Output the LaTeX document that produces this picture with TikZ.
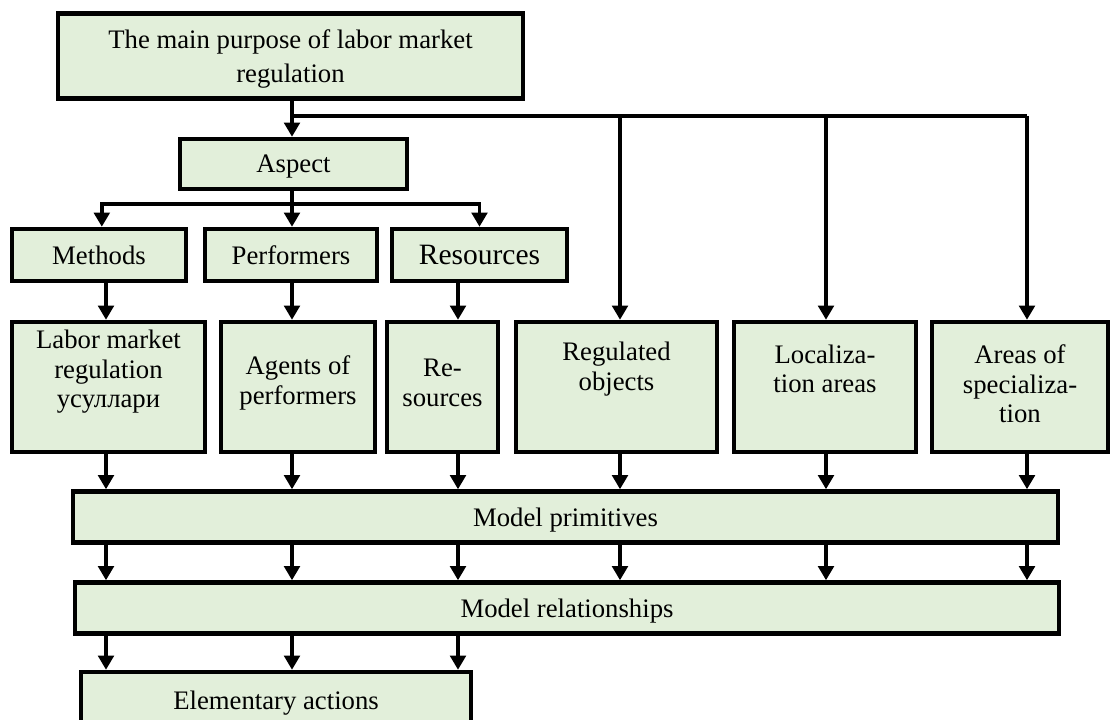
\documentclass[tikz,border=0pt]{standalone}
\usepackage{fontspec}
\setmainfont{Liberation Serif}
\usetikzlibrary{arrows.meta}
\definecolor{boxgreen}{HTML}{E2EFDA}

\begin{document}
\begin{tikzpicture}[x=0.025cm,y=-0.025cm,
        box/.style={draw,line width=3.2pt,fill=boxgreen,inner sep=0pt,align=center,
                text depth=0pt,font=\fontsize{19}{24}\selectfont},
        sz/.style 2 args={minimum width=#1*0.025cm,minimum height=#2*0.025cm},
        txt/.style={align=center,inner sep=0pt,font=\fontsize{19}{21}\selectfont},
        ln/.style={line width=2.8pt},
        arr/.style={line width=2.8pt,-{Triangle[width=11pt,length=10pt]}}]
        \useasboundingbox (0,0) rectangle (1112,720);
        % columns of the arrows
        \foreach \i/\x in {1/106,2/292,3/458,4/620,5/826,6/1027}
            \coordinate (c\i) at (\x,0);
        \node[box,sz={465}{85}] (goal) at (290.5,56) {The main purpose of labor market\\regulation};
        \node[box,sz={227}{50}] (aspect) at (293.5,164) {Aspect};
        \node[box,sz={174}{52}] (methods) at (99,255) {Methods};
        \node[box,sz={172}{52}] (perf) at (291,255) {Performers};
        \node[box,sz={175}{52},font=\fontsize{21}{24}\selectfont] (res) at (479.5,255) {Resources};
        \node[box,sz={193}{130}] (lab) at (108.5,387) {};
        \node[box,sz={154}{130}] (agent) at (298,387) {};
        \node[box,sz={111}{130}] (resrc) at (442.5,387) {};
        \node[box,sz={201}{130}] (regobj) at (616.5,387) {};
        \node[box,sz={182}{130}] (loc) at (825,387) {};
        \node[box,sz={176}{130}] (spec) at (1020,387) {};
        \node[txt] (labt) at (108.5,372) {Labor market\\regulation\\усуллари};
        \node[txt] (agentt) at (298,383) {Agents of\\performers};
        \node[txt] (resrct) at (442.5,383) {Re-\\sources};
        \node[txt] (regobjt) at (616.5,369) {Regulated\\objects};
        \node[txt] (loct) at (825,369) {Localiza-\\tion areas};
        \node[txt] (spect) at (1020,384) {Areas of\\specializa-\\tion};
        \node[box,sz={985}{51}] (prim) at (565.5,517) {Model primitives};
        \node[box,sz={984}{51}] (rel) at (567,608) {Model relationships};
        \node[box,sz={390}{56}] (elem) at (276,700) {Elementary actions};
        % from the purpose down
        \coordinate (j0) at (292,116);
        \draw[arr] (goal.south -| c2) -- (aspect.north -| c2);
        \draw[ln] (j0) -- (j0 -| c6);
        \foreach \i/\n in {4/regobj,5/loc,6/spec}
            \draw[arr] (j0 -| c\i) -- (\n.north -| c\i);
        % aspect branches
        \coordinate (k0) at (292,204);
        \draw[ln] (aspect.south -| c2) -- (k0);
        \draw[arr] (k0) -- (perf.north -| c2);
        \draw[arr] (k0) -| ([xshift=2pt]methods.north);
        \draw[arr] (k0) -| (res.north);
        \draw[arr] (methods.south -| c1) -- (lab.north -| c1);
        \draw[arr] (perf.south -| c2) -- (agent.north -| c2);
        \draw[arr] (res.south -| c3) -- (resrc.north -| c3);
        % to the model
        \foreach \i/\n in {1/lab,2/agent,3/resrc,4/regobj,5/loc,6/spec}
            \draw[arr] (\n.south -| c\i) -- (prim.north -| c\i);
        \foreach \i in {1,...,6}
            \draw[arr] (prim.south -| c\i) -- (rel.north -| c\i);
        \foreach \i in {1,2,3}
            \draw[arr] (rel.south -| c\i) -- (elem.north -| c\i);
\end{tikzpicture}
\end{document}
